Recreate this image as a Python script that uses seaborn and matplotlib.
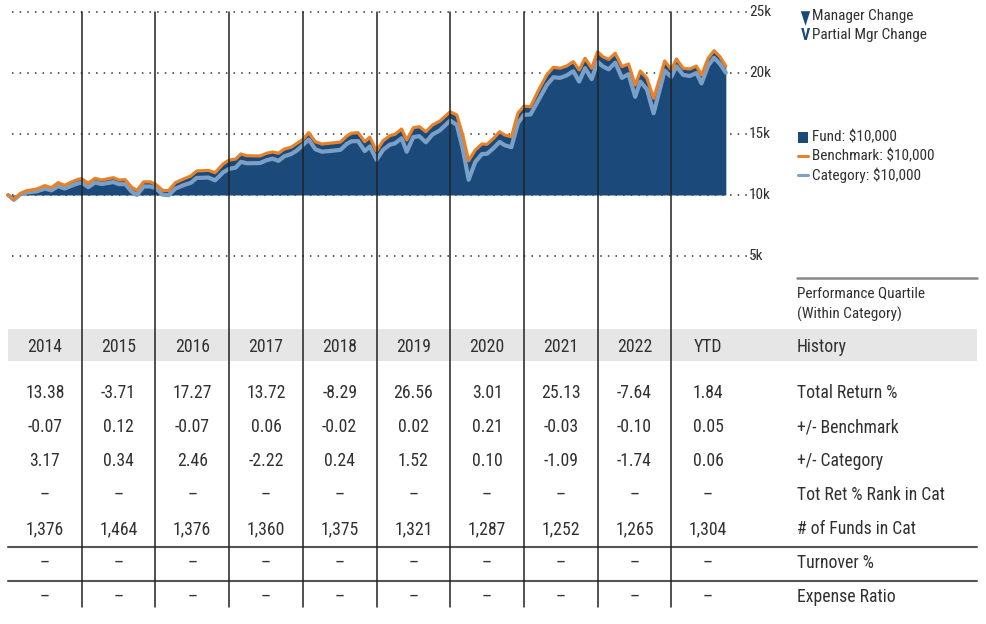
import matplotlib
matplotlib.use("Agg")
import matplotlib.pyplot as plt
import pandas as pd
import seaborn as sns
from matplotlib import font_manager as fm
from matplotlib.patches import Rectangle

# Growth of $10,000 (decimal years)
dates = [2014.00, 2014.08, 2014.17, 2014.25, 2014.39, 2014.50, 2014.59, 2014.68, 2014.77, 2014.86, 2014.95,
         2015.00, 2015.09, 2015.18, 2015.27, 2015.43, 2015.51, 2015.59, 2015.68, 2015.75, 2015.84, 2015.93,
         2016.00, 2016.10, 2016.18, 2016.27, 2016.38, 2016.48, 2016.56, 2016.72, 2016.81, 2016.92,
         2017.00, 2017.09, 2017.16, 2017.24, 2017.42, 2017.51, 2017.59, 2017.67, 2017.75, 2017.84, 2017.92,
         2018.00, 2018.08, 2018.17, 2018.26, 2018.39, 2018.51, 2018.60, 2018.66, 2018.75, 2018.84, 2018.91,
         2019.00, 2019.09, 2019.18, 2019.25, 2019.34, 2019.41, 2019.50, 2019.58, 2019.67, 2019.76, 2019.86,
         2020.00, 2020.09, 2020.17, 2020.25, 2020.34, 2020.43, 2020.50, 2020.59, 2020.67, 2020.74, 2020.83, 2020.92,
         2021.00, 2021.09, 2021.20, 2021.31, 2021.40, 2021.49, 2021.58, 2021.67, 2021.75, 2021.83, 2021.92,
         2022.00, 2022.07, 2022.15, 2022.24, 2022.33, 2022.42, 2022.51, 2022.58, 2022.67, 2022.76, 2022.85, 2022.91,
         2023.00, 2023.07, 2023.16, 2023.25, 2023.34, 2023.41, 2023.50, 2023.58, 2023.66, 2023.74]

fund = [10000, 9650, 10140, 10350, 10490, 10770, 10600, 11010, 10790, 11070, 11280,
        11330, 10960, 11370, 11230, 11420, 11230, 11260, 10630, 10380, 11090, 11090,
        10900, 10380, 10360, 11010, 11310, 11560, 11970, 12020, 11830, 12540,
        12850, 12950, 13360, 13220, 13200, 13420, 13525, 13420, 13770, 13910, 14240,
        14570, 15110, 14370, 14180, 14260, 14340, 14840, 15060, 15110, 14370, 14740,
        13600, 14450, 14860, 14980, 15410, 14510, 15520, 15600, 15190, 15740, 16070,
        16830, 16560, 14920, 12810, 13690, 14180, 14160, 14650, 15190, 14920, 14780, 16750,
        17320, 17240, 18610, 19840, 20470, 20390, 20570, 20930, 20250, 21210, 20390,
        21750, 21340, 21120, 21620, 20520, 20740, 19020, 20160, 19570, 17930, 19700, 20980,
        20250, 21150, 20390, 20330, 20570, 19840, 21210, 21830, 21340, 20570]

benchmark = [10000, 9650, 10140, 10350, 10490, 10770, 10600, 11010, 10790, 11070, 11290,
             11340, 10960, 11370, 11230, 11420, 11230, 11260, 10630, 10380, 11080, 11080,
             10890, 10380, 10360, 11010, 11310, 11560, 11970, 12020, 11830, 12550,
             12860, 12950, 13360, 13220, 13200, 13420, 13525, 13420, 13770, 13910, 14230,
             14560, 15110, 14370, 14180, 14260, 14340, 14840, 15060, 15110, 14370, 14740,
             13600, 14450, 14860, 14980, 15410, 14510, 15520, 15600, 15190, 15740, 16060,
             16820, 16560, 14920, 12810, 13690, 14180, 14160, 14650, 15190, 14920, 14770, 16720,
             17280, 17240, 18610, 19840, 20470, 20390, 20570, 20930, 20250, 21210, 20390,
             21750, 21340, 21120, 21620, 20520, 20740, 19020, 20160, 19570, 17930, 19700, 20990,
             20270, 21150, 20390, 20330, 20570, 19840, 21210, 21830, 21340, 20560]

category = [10000, 9600, 10060, 10200, 10300, 10520, 10380, 10720, 10530, 10760, 10950,
            11020, 10640, 11030, 10900, 11060, 10880, 10900, 10260, 10000, 10700, 10700,
            10580, 10020, 9980, 10520, 10800, 11000, 11400, 11430, 11200, 11860,
            12140, 12250, 12720, 12600, 12620, 12850, 12980, 12800, 13180, 13350, 13650,
            14080, 14550, 13750, 13550, 13620, 13700, 14200, 14400, 14420, 13600, 13980,
            12880, 13700, 14120, 14230, 14650, 13550, 14750, 14820, 14320, 14960, 15300,
            16100, 15750, 13800, 11250, 12700, 13350, 13380, 13850, 14350, 14080, 13920, 15900,
            16570, 16600, 17800, 19000, 19650, 19600, 19800, 20150, 19300, 20400, 19500,
            20910, 20550, 20300, 20850, 19600, 19900, 18050, 19300, 18650, 16700, 18800, 20200,
            19680, 20550, 19850, 19750, 20000, 19150, 20600, 21250, 20750, 20030]

y_ticks = [5000, 10000, 15000, 20000, 25000]
y_tick_labels = ['5k', '10k', '15k', '20k', '25k']

col_years = [2014, 2015, 2016, 2017, 2018, 2019, 2020, 2021, 2022, 2023]
col_labels = ['2014', '2015', '2016', '2017', '2018', '2019', '2020', '2021', '2022', 'YTD']
total_return = ['13.38', '-3.71', '17.27', '13.72', '-8.29', '26.56', '3.01', '25.13', '-7.64', '1.84']
vs_benchmark = ['-0.07', '0.12', '-0.07', '0.06', '-0.02', '0.02', '0.21', '-0.03', '-0.10', '0.05']
vs_category = ['3.17', '0.34', '2.46', '-2.22', '0.24', '1.52', '0.10', '-1.09', '-1.74', '0.06']
rank_in_cat = ['–', '–', '–', '–', '–', '–', '–', '–', '–', '–']
funds_in_cat = ['1,376', '1,464', '1,376', '1,360', '1,375', '1,321', '1,287', '1,252', '1,265', '1,304']
turnover = ['–', '–', '–', '–', '–', '–', '–', '–', '–', '–']
expense_ratio = ['–', '–', '–', '–', '–', '–', '–', '–', '–', '–']
row_labels = ['Total Return %', '+/- Benchmark', '+/- Category', 'Tot Ret % Rank in Cat',
              '# of Funds in Cat', 'Turnover %', 'Expense Ratio']
rows = [total_return, vs_benchmark, vs_category, rank_in_cat, funds_in_cat, turnover, expense_ratio]

FUND_C = '#1b4a7a'
BENCH_C = '#e8822a'
CAT_C = '#7ba0c8'
TXT_C = '#303030'

W, H = 987, 624


def px2yr(px):
    # horizontal pixel -> year units (one year = 73.7 px, 2014 starts at px 8)
    return 2014 + (px - 8) / 73.7


def fy(py):
    # vertical pixel -> axes fraction (axes spans the whole figure)
    return 1 - py / H


def pick_narrow_font():
    # look for a condensed / narrow sans face, fall back to Roboto
    fonts = fm.fontManager.ttflist
    for want in ['Roboto Condensed', 'Liberation Sans Narrow', 'Open Sans Condensed',
                 'Noto Sans Condensed', 'Arial Narrow']:
        for f in fonts:
            if f.name == want and f.style == 'normal':
                return f.name, f.stretch, True
    for f in fonts:
        if f.stretch in ('condensed', 'semi-condensed') and f.style == 'normal' \
                and f.weight in (400, 'normal', 'regular'):
            return f.name, f.stretch, True
    return 'Roboto', 'normal', False


sns.set_theme(style='white')
font_name, font_stretch, narrow = pick_narrow_font()
plt.rcParams['font.family'] = [font_name, 'DejaVu Sans']
plt.rcParams['font.stretch'] = font_stretch

# condensed faces can run a little larger than a regular width face
FS_TAB = 12.7 if narrow else 11.6
FS_SM = 11 if narrow else 10

fig = plt.figure(figsize=(W / 100, H / 100), dpi=100)
ax = fig.add_axes([0, 0, 1, 1])
blend = ax.get_xaxis_transform()

# dotted grid
ax.hlines(y_ticks, px2yr(12), px2yr(757), colors='#333333', linestyles=(0, (1, 4)), lw=1.1, zorder=1)

# fund area + lines
ax.fill_between(dates, 10000, fund, color=FUND_C, lw=0, zorder=2)
df = pd.DataFrame({'date': dates, 'Category': category, 'Benchmark': benchmark})
sns.lineplot(data=df, x='date', y='Category', color=CAT_C, lw=3.0, ax=ax, zorder=3, sort=False)
sns.lineplot(data=df, x='date', y='Benchmark', color=BENCH_C, lw=2.3, ax=ax, zorder=4, sort=False)

ax.set_xlim(px2yr(0), px2yr(W))
ax.set_ylim(10000 - (H - 195) * 5000 / 61, 10000 + 195 * 5000 / 61)
ax.axis('off')

# y tick labels
for v, lab in zip(y_ticks, y_tick_labels):
    ax.text(px2yr(749), v, lab, ha='left', va='center', fontsize=FS_SM, color=TXT_C)

# year separators
for yr in col_years[1:]:
    ax.axvline(yr, ymin=fy(607), ymax=fy(12), color='#222222', lw=1.1, zorder=6)

# legend
ax.plot(px2yr(804.5), 10000 + (195 - 17.5) * 5000 / 61, marker=[(-0.32, 0.5), (0.32, 0.5), (0, -0.5)],
        ms=10.5, color=FUND_C, mew=0, zorder=7)
ax.text(px2yr(805), fy(36), 'V', transform=blend, ha='center', va='center', fontsize=FS_SM + 0.5,
        color=FUND_C, fontweight='bold')
ax.text(px2yr(812), fy(16), 'Manager Change', transform=blend, ha='left', va='center', fontsize=FS_SM, color=TXT_C)
ax.text(px2yr(812), fy(35), 'Partial Mgr Change', transform=blend, ha='left', va='center', fontsize=FS_SM, color=TXT_C)

ax.add_patch(Rectangle((px2yr(797.5), fy(143)), px2yr(808.5) - px2yr(797.5), fy(132) - fy(143),
                       transform=blend, color=FUND_C, lw=0))
ax.plot([px2yr(798), px2yr(808)], [fy(156)] * 2, transform=blend, color=BENCH_C, lw=2.2)
ax.plot([px2yr(798), px2yr(808)], [fy(175)] * 2, transform=blend, color=CAT_C, lw=2.2)
ax.text(px2yr(812), fy(137), 'Fund: $10,000', transform=blend, ha='left', va='center', fontsize=FS_SM, color=TXT_C)
ax.text(px2yr(812), fy(156), 'Benchmark: $10,000', transform=blend, ha='left', va='center', fontsize=FS_SM, color=TXT_C)
ax.text(px2yr(812), fy(175), 'Category: $10,000', transform=blend, ha='left', va='center', fontsize=FS_SM, color=TXT_C)

# performance quartile block
ax.plot([px2yr(797), px2yr(977)], [fy(278)] * 2, transform=blend, color='#888888', lw=1.8)
ax.text(px2yr(797), fy(293), 'Performance Quartile', transform=blend, ha='left', va='center', fontsize=FS_SM, color=TXT_C)
ax.text(px2yr(797), fy(314), '(Within Category)', transform=blend, ha='left', va='center', fontsize=FS_SM, color=TXT_C)

# table header band
ax.add_patch(Rectangle((px2yr(8), fy(361)), px2yr(977) - px2yr(8), fy(329) - fy(361),
                       transform=blend, color='#e6e6e6', lw=0, zorder=0))
for yr, lab in zip(col_years, col_labels):
    ax.text(yr + 0.5, fy(347), lab, transform=blend, ha='center', va='center', fontsize=FS_TAB, color=TXT_C)
ax.text(px2yr(797), fy(347), 'History', transform=blend, ha='left', va='center', fontsize=FS_TAB, color=TXT_C)

# table rows
row_py = [393, 427, 461, 495, 529, 563, 597]
for py, lab, vals in zip(row_py, row_labels, rows):
    for yr, s in zip(col_years, vals):
        ax.text(yr + 0.5, fy(py), s, transform=blend, ha='center', va='center', fontsize=FS_TAB, color=TXT_C)
    ax.text(px2yr(797), fy(py), lab, transform=blend, ha='left', va='center', fontsize=FS_TAB, color=TXT_C)

for py in [547, 581]:
    ax.plot([px2yr(8), px2yr(977)], [fy(py)] * 2, transform=blend, color='#555555', lw=1.5, zorder=5)

fig.savefig('out.png', dpi=100)
